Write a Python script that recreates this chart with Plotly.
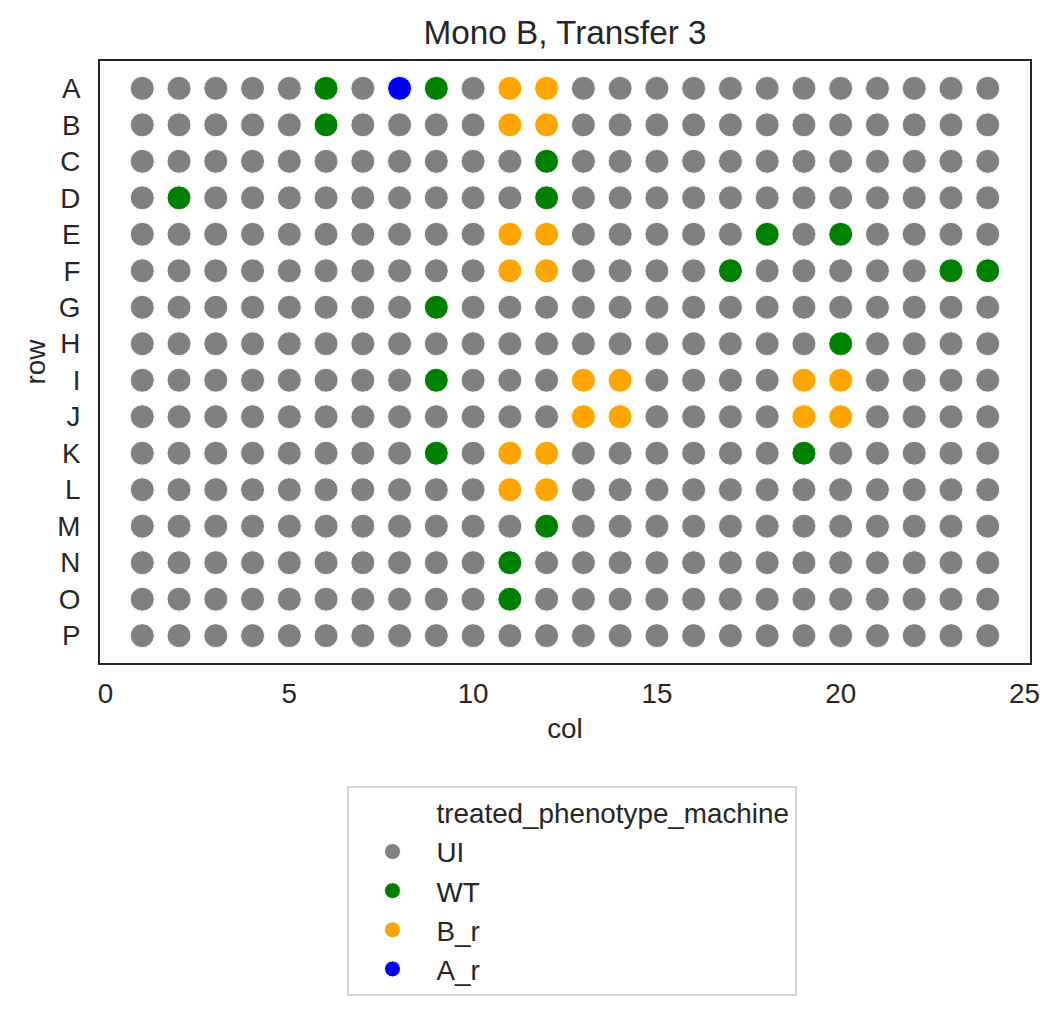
import plotly.graph_objects as go

rows = list("ABCDEFGHIJKLMNOP")
cols = list(range(1, 25))

# wells with a non-UI phenotype (row letter + column)
wt_wells = ["A6", "A9", "B6", "C12", "D2", "D12", "E18", "E20", "F17", "F23", "F24",
            "G9", "H20", "I9", "K9", "K19", "M12", "N11", "O11"]
br_wells = ["A11", "A12", "B11", "B12", "E11", "E12", "F11", "F12",
            "I13", "I14", "I19", "I20", "J13", "J14", "J19", "J20",
            "K11", "K12", "L11", "L12"]
ar_wells = ["A8"]

categories = ["UI", "WT", "B_r", "A_r"]
colors = {"UI": "#808080", "WT": "#008000", "B_r": "#FFA500", "A_r": "#0000FF"}

pheno = {}
for r in rows:
    for c in cols:
        pheno[f"{r}{c}"] = "UI"
for w in wt_wells:
    pheno[w] = "WT"
for w in br_wells:
    pheno[w] = "B_r"
for w in ar_wells:
    pheno[w] = "A_r"

FONT = "Liberation Sans, Arial, sans-serif"
TXT = "#262626"
FS = 27.8

fig = go.Figure()
fig.add_trace(go.Scatter(x=[None], y=[None], mode="markers", name="treated_phenotype_machine",
                         marker=dict(color="rgba(0,0,0,0)", size=1), legendgroup="title",
                         hoverinfo="skip"))
for cat in categories:
    xs, ys = [], []
    for r in rows:
        for c in cols:
            if pheno[f"{r}{c}"] == cat:
                xs.append(c)
                ys.append(r)
    fig.add_trace(go.Scatter(x=xs, y=ys, mode="markers", name=cat, legendgroup=cat,
                             marker=dict(color=colors[cat], size=24,
                                         line=dict(color="white", width=1))))

fig.update_layout(
    width=1059, height=1013,
    margin=dict(l=92, r=37, t=53, b=358, autoexpand=False),
    plot_bgcolor="white", paper_bgcolor="white",
    font=dict(family=FONT, size=FS, color=TXT),
    title=dict(text="Mono B, Transfer 3", x=0.5, xref="paper", xanchor="center",
               y=1 - 24 / 1013, yanchor="middle", font=dict(size=33.3, color=TXT)),
    showlegend=True,
    legend=dict(x=0.507, xanchor="center", y=-0.204, yanchor="top",
                bordercolor="#d6d6d6", borderwidth=2, bgcolor="white",
                font=dict(size=FS, color=TXT), tracegroupgap=0,
                itemsizing="trace", itemwidth=78),
)
fig.update_xaxes(range=[-0.15, 25.15], tickvals=[0, 5, 10, 15, 20, 25],
                 showgrid=False, zeroline=False, showline=True, mirror=True,
                 linecolor=TXT, linewidth=2, ticks="", ticklabelstandoff=5, automargin=False,
                 title=dict(text="col", font=dict(size=FS, color=TXT), standoff=10),
                 tickfont=dict(size=FS, color=TXT))
fig.update_yaxes(type="category", categoryorder="array", categoryarray=rows,
                 range=[15.75, -0.75], showgrid=False, zeroline=False, showline=True,
                 mirror=True, linecolor=TXT, linewidth=2, ticks="", ticklabelstandoff=12,
                 automargin=False,
                 title=dict(text="row", font=dict(size=FS, color=TXT), standoff=4),
                 tickfont=dict(size=FS, color=TXT))

fig.write_html("out.html")
